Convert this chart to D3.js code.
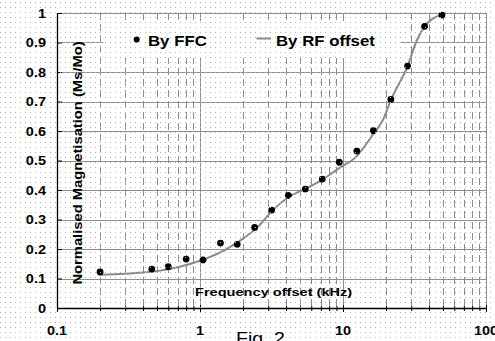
<!DOCTYPE html>
<html>
<head>
<meta charset="utf-8">
<script src="https://cdn.jsdelivr.net/npm/d3@7"></script>
<style>
  html, body { margin: 0; padding: 0; background: #fff; }
  svg { display: block; }
  text { font-family: 'Liberation Sans', Arial, sans-serif; fill: #000; }
</style>
</head>
<body>
<div id="graph"></div>
<script>
// measured points, "By FFC"
const ffcFreq = [0.2, 0.46, 0.6, 0.8, 1.05, 1.39, 1.82, 2.41, 3.17, 4.15, 5.45, 7.16, 9.42, 12.5, 16.3, 21.6, 28.3, 37.2, 49.2]
const ffcMag = [0.122, 0.132, 0.14, 0.166, 0.163, 0.22, 0.216, 0.273, 0.332, 0.382, 0.403, 0.437, 0.494, 0.532, 0.601, 0.707, 0.82, 0.955, 0.993]

const rfFreq = [0.2, 0.3, 0.4, 0.5, 0.7, 1, 1.5, 2, 2.6, 3.2, 4.2, 5.5, 7, 9.4, 12.5, 16.3, 19, 21.6, 28.3, 32.7, 37.2, 42.8, 49.2]
const rfMag = [0.113, 0.116, 0.12, 0.125, 0.138, 0.16, 0.197, 0.235, 0.28, 0.33, 0.377, 0.405, 0.432, 0.474, 0.515, 0.59, 0.637, 0.705, 0.82, 0.905, 0.955, 0.982, 0.995]

const yTicks = [0, 0.1, 0.2, 0.3, 0.4, 0.5, 0.6, 0.7, 0.8, 0.9, 1]
const yTickLabels = ['0', '0.1', '0.2', '0.3', '0.4', '0.5', '0.6', '0.7', '0.8', '0.9', '1']
const xMajor = [0.1, 1, 10, 100]
const xTickLabels = ['0.1', '1', '10', '100']
const xMinor = [0.2, 0.3, 0.4, 0.5, 0.6, 0.7, 0.8, 0.9, 2, 3, 4, 5, 6, 7, 8, 9, 20, 30, 40, 50, 60, 70, 80, 90]

const legendLabels = ['By FFC', 'By RF offset']
const xTitle = 'Frequency offset (kHz)'
const yTitle = 'Normalised Magnetisation (Ms/Mo)'
const caption = 'Fig. 2'

const W = 495
const H = 341
const margins = { top: 13, right: 9, bottom: 33, left: 57 }
const width = W - margins.left - margins.right
const height = H - margins.top - margins.bottom
const stretch = 1.2

const svg = d3.select('#graph')
  .append('svg')
  .attr('width', W)
  .attr('height', H)

const defs = svg.append('defs')
defs.append('pattern')
  .attr('id', 'dots')
  .attr('width', 5)
  .attr('height', 5)
  .attr('patternUnits', 'userSpaceOnUse')
  .append('rect')
  .attr('x', 0)
  .attr('y', 2)
  .attr('width', 1)
  .attr('height', 1)
  .attr('fill', '#b4b4b4')

svg.append('rect').attr('width', W).attr('height', H).attr('fill', '#fff')

const g = svg.append('g')
  .attr('transform', `translate(${margins.left}, ${margins.top})`)

const x = d3.scaleLog([0.1, 100], [0, width])
const y = d3.scaleLinear([0, 1], [height, 0])

// snap to pixel centres so the 1px grid stays crisp
const px = v => Math.round(v) + 0.5

// gridlines
g.append('g')
  .selectAll('line')
  .data(yTicks.slice(1))
  .enter()
  .append('line')
  .attr('x1', 0)
  .attr('x2', width)
  .attr('y1', d => px(y(d)))
  .attr('y2', d => px(y(d)))
  .attr('stroke', '#8e8e8e')

g.append('g')
  .selectAll('line')
  .data(xMinor)
  .enter()
  .append('line')
  .attr('x1', d => px(x(d)))
  .attr('x2', d => px(x(d)))
  .attr('y1', 0)
  .attr('y2', height)
  .attr('stroke', '#8c8c8c')
  .attr('stroke-dasharray', '7,4')

g.append('g')
  .selectAll('line')
  .data(xMajor.slice(1))
  .enter()
  .append('line')
  .attr('x1', d => px(x(d)))
  .attr('x2', d => px(x(d)))
  .attr('y1', 0)
  .attr('y2', height)
  .attr('stroke', '#8e8e8e')

// legend box hides the grid
g.append('rect')
  .attr('x', 46)
  .attr('y', 8)
  .attr('width', 297)
  .attr('height', 37)
  .attr('fill', '#fff')

// axes
const xAxis = g.append('g')
  .attr('transform', `translate(0, ${height})`)
  .call(d3.axisBottom(x).tickValues(xMajor.concat(xMinor)).tickSizeInner(3).tickSizeOuter(0).tickFormat(''))
xAxis.selectAll('.tick line').attr('y1', -2)
xAxis.selectAll('.tick')
  .filter(d => xMajor.includes(d))
  .select('line')
  .attr('y1', -3)
  .attr('y2', 4)

const yAxis = g.append('g')
  .call(d3.axisLeft(y).tickValues(yTicks).tickSizeInner(-5).tickSizeOuter(0).tickFormat(''))

g.selectAll('.domain').attr('stroke', '#000').attr('stroke-width', 1.3)
g.selectAll('.tick line').attr('stroke', '#000')

// paper texture
svg.append('rect')
  .attr('width', W)
  .attr('height', H)
  .attr('fill', 'url(#dots)')

// RF offset curve
const rfData = rfFreq.map((f, i) => ({ x: f, y: rfMag[i] }))
g.append('path')
  .datum(rfData)
  .attr('fill', 'none')
  .attr('stroke', '#8a8a8a')
  .attr('stroke-width', 2)
  .attr('d', d3.line()
    .x(d => x(d.x))
    .y(d => y(d.y))
    .curve(d3.curveMonotoneX)
  )

// FFC points
const ffcData = ffcFreq.map((f, i) => ({ x: f, y: ffcMag[i] }))
g.append('g')
  .selectAll('circle')
  .data(ffcData)
  .enter()
  .append('circle')
  .attr('cx', d => x(d.x))
  .attr('cy', d => y(d.y))
  .attr('r', 3.4)
  .attr('fill', '#000')

// text helper, the original is stretched sideways
function label (parent, str, tx, ty, size, anchor, weight, sx) {
  return parent.append('text')
    .attr('transform', `translate(${tx}, ${ty}) scale(${sx || stretch}, 1)`)
    .attr('text-anchor', anchor)
    .style('font-size', size + 'px')
    .style('font-weight', weight || 'bold')
    .text(str)
}

yTicks.forEach((t, i) => label(svg, yTickLabels[i], 46, margins.top + y(t) + 4.5, 12.5, 'end', 'bold', 1.16))
xMajor.forEach((t, i) => label(svg, xTickLabels[i], margins.left + x(t), 335, 12, 'middle'))

label(svg, xTitle, 195, 295.5, 11.5, 'start', 'bold', 1.27)

svg.append('text')
  .attr('transform', `translate(82, 163) rotate(-90) scale(1.18, 1)`)
  .attr('text-anchor', 'middle')
  .style('font-size', '12.5px')
  .style('font-weight', 'bold')
  .text(yTitle)

// legend
svg.append('circle')
  .attr('cx', 136.7)
  .attr('cy', 39.5)
  .attr('r', 3)
  .attr('fill', '#000')
label(svg, legendLabels[0], 148, 45.5, 14, 'start')

svg.append('line')
  .attr('x1', 256.5)
  .attr('x2', 271)
  .attr('y1', 38.5)
  .attr('y2', 38.5)
  .attr('stroke', '#8a8a8a')
  .attr('stroke-width', 2)
label(svg, legendLabels[1], 276, 45.5, 14, 'start')

label(svg, caption, 236, 344, 17, 'start', 'normal', 1.15)
</script>
</body>
</html>
